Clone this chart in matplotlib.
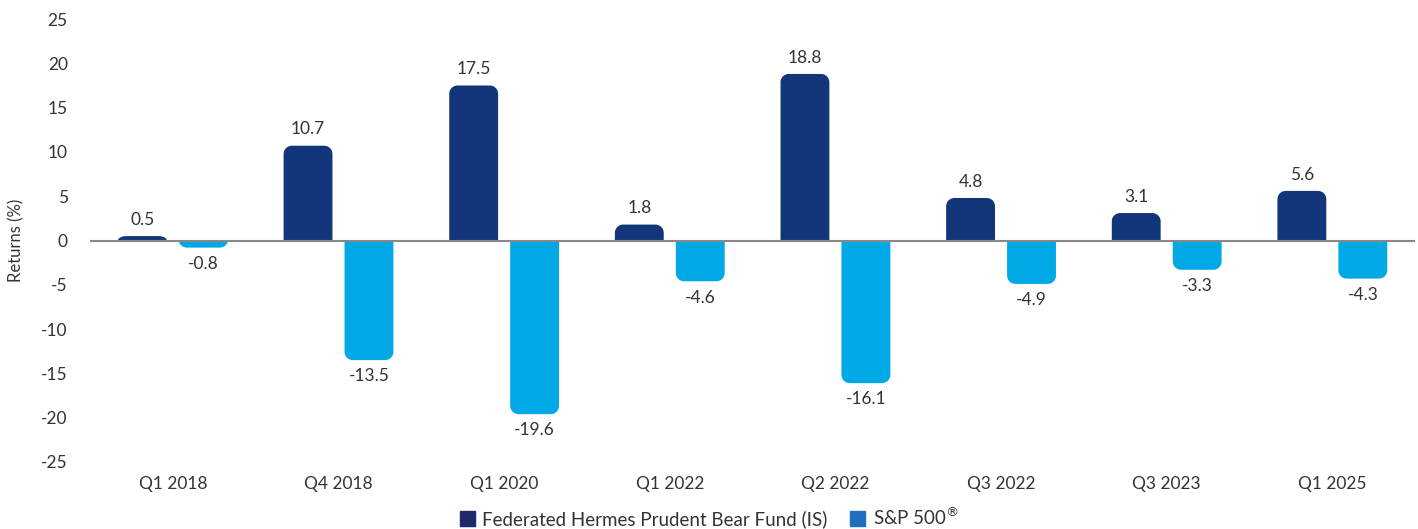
import numpy as np
import matplotlib.pyplot as plt
from matplotlib.patches import Polygon, Patch

quarters = ["Q1 2018", "Q4 2018", "Q1 2020", "Q1 2022", "Q2 2022", "Q3 2022", "Q3 2023", "Q1 2025"]
fund = [0.5, 10.7, 17.5, 1.8, 18.8, 4.8, 3.1, 5.6]
spx = [-0.8, -13.5, -19.6, -4.6, -16.1, -4.9, -3.3, -4.3]

fund_color = "#13367a"
spx_color = "#00a9e6"
text_color = "#333333"

plt.rcParams['font.family'] = ['Lato', 'DejaVu Sans']
plt.rcParams['axes.unicode_minus'] = False

fig = plt.figure(figsize=(14.18, 5.29), dpi=100)
ax = fig.add_axes([0.0635, 0.1267, 0.9345, 0.8373])
ax.set_xlim(-0.5, len(quarters) - 0.5)
ax.set_ylim(-25, 25)

width = 0.295
offset = 0.184
# px per unit in x / px per unit in y, for round corners
aspect = (1325 / 8) / (443 / 50)
rad = 0.05


def rounded_bar(x, v, color):
    left, right = x - width / 2, x + width / 2
    sgn = 1 if v > 0 else -1
    ry = min(rad * aspect, abs(v))
    rx = rad
    t = np.linspace(0, np.pi / 2, 12)
    # left corner then right corner, at the outer end only
    lx = left + rx - rx * np.cos(t)
    ly = v - sgn * ry + sgn * ry * np.sin(t)
    rxs = right - rx + rx * np.sin(t)
    rys = v - sgn * ry + sgn * ry * np.cos(t)
    xs = np.concatenate([[left], lx, rxs, [right]])
    ys = np.concatenate([[0], ly, rys, [0]])
    ax.add_patch(Polygon(np.column_stack([xs, ys]), closed=True, fc=color,
                         ec="none", lw=0, zorder=2))


for i, (f, s) in enumerate(zip(fund, spx)):
    rounded_bar(i - offset, f, fund_color)
    rounded_bar(i + offset, s, spx_color)
    ax.annotate(f"{f:.1f}", (i - offset, f), xytext=(0, 6), textcoords="offset points",
                ha="center", va="bottom", fontsize=12.5, color=text_color)
    ax.annotate(f"{s:.1f}", (i + offset, s), xytext=(0, -6), textcoords="offset points",
                ha="center", va="top", fontsize=12.5, color=text_color)

ax.axhline(0, color="#888888", lw=1.5, zorder=3)

ax.set_yticks(range(-25, 26, 5))
ax.set_xticks(range(len(quarters)))
ax.set_xticklabels(quarters)
ax.tick_params(length=0, labelsize=12.5, labelcolor=text_color)
ax.tick_params(axis="y", pad=16)
ax.tick_params(axis="x", pad=10)
for sp in ax.spines.values():
    sp.set_visible(False)
ax.set_ylabel("Returns (%)", fontsize=12, color=text_color, labelpad=12)

handles = [Patch(color="#1f2a6b", label="Federated Hermes Prudent Bear Fund (IS)"),
           Patch(color="#1f6fc0", label="S&P 500$^{®}$")]
fig.legend(handles=handles, loc="lower center", bbox_to_anchor=(0.5, -0.03), ncol=2,
           frameon=False, fontsize=13.5, handlelength=0.8, handleheight=0.8,
           handletextpad=0.4, columnspacing=1.2, labelcolor=text_color)

fig.savefig("out.png", dpi=100)
